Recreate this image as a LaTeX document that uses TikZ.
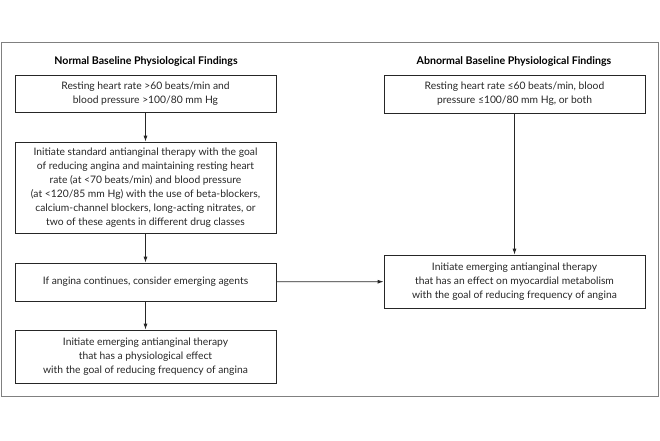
\documentclass[tikz,border=0pt]{standalone}
\usepackage{fontspec}
\setmainfont{Lato}
\usetikzlibrary{arrows.meta}
\begin{document}
\begin{tikzpicture}[x=1pt,y=-1pt,
  box/.style={draw=black!85,line width=0.8pt,align=center,inner sep=0pt,font=\fontsize{10.3}{14}\selectfont,text=black!85},
  ttl/.style={font=\fontsize{10.6}{13}\selectfont\bfseries,text=black},
  arr/.style={draw=black!85,line width=0.8pt,-{Latex[length=6pt,width=4pt]}}]
\useasboundingbox (0,0) rectangle (660,440);
\draw[black!50,line width=1pt] (1.5,42.5) rectangle (658,396.5);
\node[ttl] (t1) at (146,62) {Normal Baseline Physiological Findings};
\node[ttl] (t2) at (514,62) {Abnormal Baseline Physiological Findings};
\node[box,minimum width=261pt,minimum height=37pt] (b1) at (145.5,93.5) {Resting heart rate >60 beats/min and\\blood pressure >100/80 mm Hg};
\node[box,minimum width=261pt,minimum height=91pt] (b2) at (145.5,187.5) {Initiate standard antianginal therapy with the goal\\of reducing angina and maintaining resting heart\\rate (at <70 beats/min) and blood pressure\\(at <120/85 mm Hg) with the use of beta-blockers,\\calcium-channel blockers, long-acting nitrates, or\\two of these agents in different drug classes};
\node[box,minimum width=261pt,minimum height=38pt] (b3) at (145.5,282) {If angina continues, consider emerging agents};
\node[box,minimum width=261pt,minimum height=53pt] (b4) at (145.5,356.5) {Initiate emerging antianginal therapy\\that has a physiological effect\\with the goal of reducing frequency of angina};
\node[box,minimum width=261pt,minimum height=38pt] (r1) at (514.5,94) {Resting heart rate ≤60 beats/min, blood\\pressure ≤100/80 mm Hg, or both};
\node[box,minimum width=261pt,minimum height=53pt] (r2) at (514.5,281.5) {Initiate emerging antianginal therapy\\that has an effect on myocardial metabolism\\with the goal of reducing frequency of angina};
\draw[arr] (b1) -- (b2);
\draw[arr] (b2) -- (b3);
\draw[arr] (b3) -- (b4);
\draw[arr] (r1) -- (r2);
\draw[arr] (b3) -- (r2);
\end{tikzpicture}
\end{document}
